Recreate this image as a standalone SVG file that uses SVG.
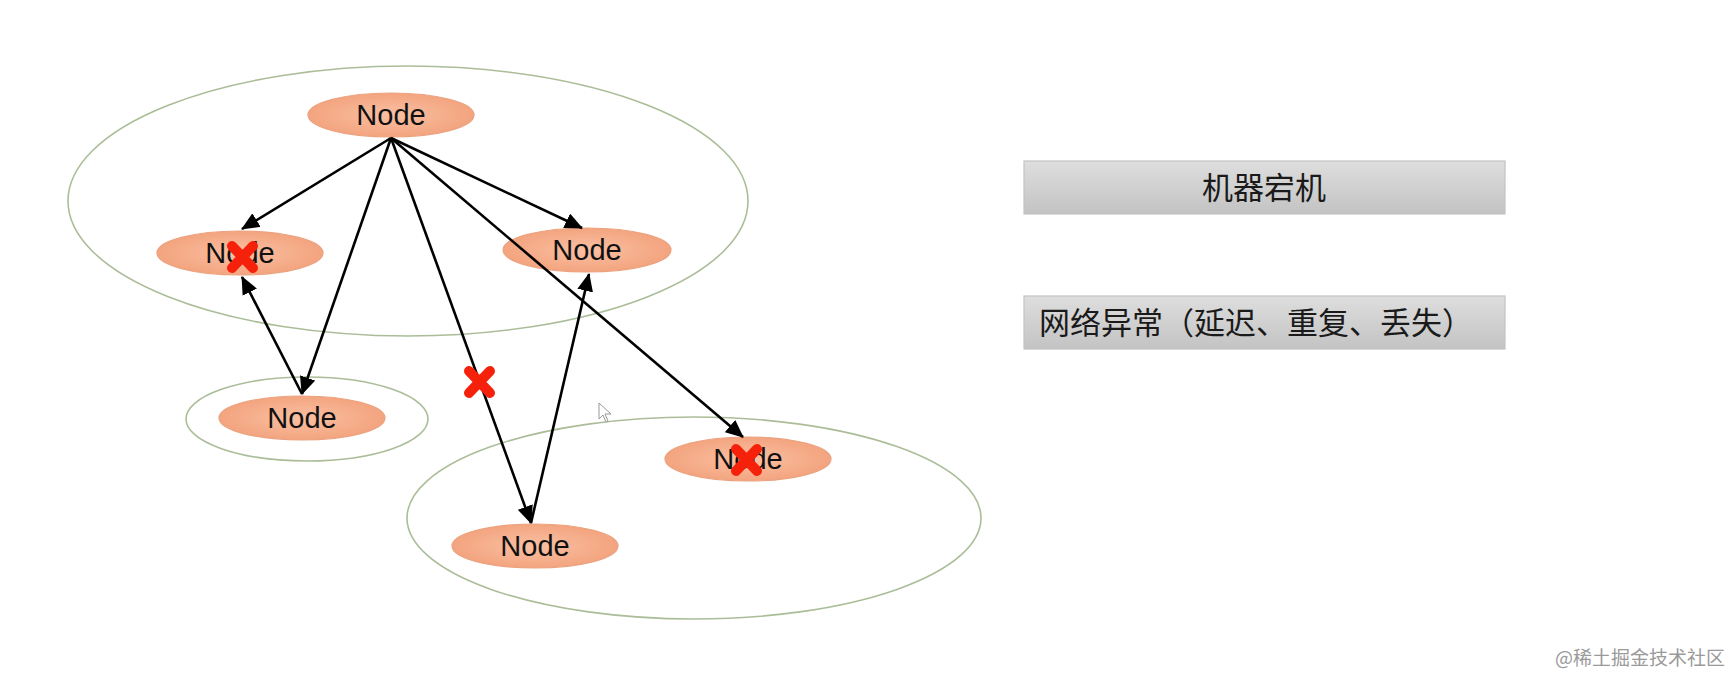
<svg xmlns="http://www.w3.org/2000/svg" width="1733" height="680" viewBox="0 0 1733 680">
<style>
.grp{fill:none;stroke:#abbd98;stroke-width:1.6}
.node{fill:url(#ng);stroke:#eba27f;stroke-width:1.2}
.nt{font-family:"Liberation Sans",Arial,sans-serif;font-size:29px;fill:#111;text-anchor:middle}
.edge{stroke:#000;stroke-width:2.6;fill:none;marker-end:url(#ah)}
.x{stroke:#f5210a;stroke-width:10;stroke-linecap:round}
.box{fill:url(#bg);stroke:#c4c4c4;stroke-width:1.2}
.bt{font-family:"Noto Sans CJK SC","Noto Sans CJK TC",sans-serif;font-size:31px;fill:#1a1a1a}
</style>
<defs>
<radialGradient id="ng" cx="50%" cy="50%" r="50%">
<stop offset="0" stop-color="#fac0a3"/>
<stop offset="1" stop-color="#f3a47f"/>
</radialGradient>
<linearGradient id="bg" x1="0" y1="0" x2="0" y2="1">
<stop offset="0" stop-color="#dedede"/>
<stop offset="1" stop-color="#c3c3c3"/>
</linearGradient>
<marker id="ah" markerWidth="18" markerHeight="16" refX="17" refY="8" orient="auto" markerUnits="userSpaceOnUse">
<path d="M0,0 L18,8 L0,16 Z" fill="#000"/>
</marker>
</defs>
<rect width="1733" height="680" fill="#fff"/>
<g id="groups">
<ellipse class="grp" cx="408" cy="201" rx="340" ry="135"/>
<ellipse class="grp" cx="307" cy="419" rx="121" ry="42"/>
<ellipse class="grp" cx="694" cy="518" rx="287" ry="101"/>
</g>
<g id="n-top"><ellipse class="node" cx="391" cy="115" rx="83" ry="22"/><text class="nt" x="391" y="125">Node</text></g>
<g id="n-left"><ellipse class="node" cx="240" cy="253" rx="83" ry="22"/><text class="nt" x="240" y="263">Node</text></g>
<g id="n-right"><ellipse class="node" cx="587" cy="250" rx="84" ry="22"/><text class="nt" x="587" y="260">Node</text></g>
<g id="n-mid"><ellipse class="node" cx="302" cy="418" rx="83" ry="22"/><text class="nt" x="302" y="428">Node</text></g>
<g id="n-br"><ellipse class="node" cx="748" cy="459" rx="83" ry="22"/><text class="nt" x="748" y="469">Node</text></g>
<g id="n-bot"><ellipse class="node" cx="535" cy="546" rx="83" ry="22"/><text class="nt" x="535" y="556">Node</text></g>
<g id="connectors">
<line class="edge" x1="391" y1="138" x2="242" y2="229"/>
<line class="edge" x1="391" y1="138" x2="302" y2="394"/>
<line class="edge" x1="391" y1="138" x2="582" y2="228"/>
<line class="edge" x1="391" y1="138" x2="531" y2="523"/>
<line class="edge" x1="391" y1="138" x2="743" y2="437"/>
<line class="edge" x1="302" y1="394" x2="242" y2="277"/>
<line class="edge" x1="531" y1="523" x2="589" y2="274"/>
</g>
<g id="failures">
<path class="x" d="M232,246 L253,268 M253,246 L232,268"/>
<path class="x" d="M469,371 L490,393 M490,371 L469,393"/>
<path class="x" d="M736,449 L757,471 M757,449 L736,471"/>
</g>
<g id="cursor"><path d="M599,403 L599,419 L603,415 L606,422 L608,421 L605,414 L611,414 Z" fill="#fff" stroke="#999" stroke-width="1"/></g>
<g id="box1"><rect class="box" x="1024" y="161" width="481" height="53"/><text class="bt" x="1264" y="199" text-anchor="middle">机器宕机</text></g>
<g id="box2"><rect class="box" x="1024" y="296" width="481" height="53"/><text class="bt" x="1039" y="334">网络异常（延迟、重复、丢失）</text></g>
<text x="1725" y="665" text-anchor="end" font-family="Noto Sans CJK SC,sans-serif" font-size="19" fill="#9a9a9a">@稀土掘金技术社区</text>
</svg>
